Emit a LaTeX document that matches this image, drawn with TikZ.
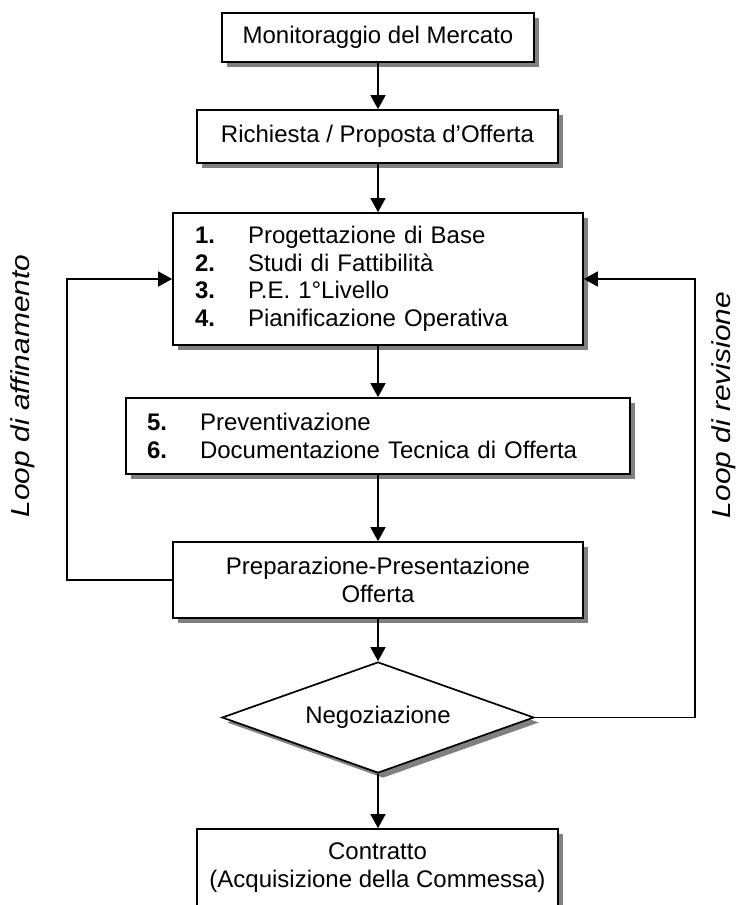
\documentclass[tikz,border=0pt]{standalone}
\usepackage{fontspec}
\setmainfont{Liberation Sans}
\newfontfamily\loopfont[FakeStretch=1.15]{Liberation Sans}
\usetikzlibrary{arrows.meta,shapes.geometric,shadows}
\tikzset{
  shad/.style={drop shadow={shadow xshift=5pt, shadow yshift=-5pt, fill=black!50, opacity=1}},
  box/.style={draw, line width=1.7pt, fill=white, rectangle, inner sep=0pt, shad,
    font=\fontsize{24}{28}\selectfont, align=center},
  listbox/.style={box, font=\fontsize{24}{27.5}\selectfont, align=left},
  dec/.style={draw, line width=1.7pt, fill=white, diamond, inner sep=0pt, shad,
    font=\fontsize{24}{28}\selectfont},
  arr/.style={-{Triangle[length=14pt,width=15pt]}, line width=1.6pt},
  looplab/.style={font=\loopfont\itshape\fontsize{26}{28}\selectfont, rotate=90}
}
\newcommand{\numitem}[2]{\makebox[53pt][l]{\bfseries #1}#2}
\begin{document}
\begin{tikzpicture}[x=1pt,y=-1pt]
\useasboundingbox (0,0) rectangle (737,905);
\clip (0,0) rectangle (737,905);
\fill[white] (0,0) rectangle (737,905);

\node[box, minimum width=312pt, minimum height=49pt] (b1) at (378,37.5) {Monitoraggio del Mercato};
\node[box, minimum width=361pt, minimum height=53pt] (b2) at (377.5,136.5) {Richiesta / Proposta d'Offerta};
\node[listbox, minimum width=410pt, minimum height=132pt, text width=366pt, inner xsep=22pt] (b3) at (378,279)
  {\numitem{1.}{Progettazione di Base}\\ \numitem{2.}{Studi di Fattibilità}\\ \numitem{3.}{P.E. 1°Livello}\\ \numitem{4.}{Pianificazione Operativa}};
\node[listbox, minimum width=504pt, minimum height=76pt, text width=462pt, inner xsep=21pt] (b4) at (378,436)
  {\numitem{5.}{Preventivazione}\\ \numitem{6.}{Documentazione Tecnica di Offerta}};
\node[box, minimum width=410pt, minimum height=76pt] (b5) at (378,580)
  {Preparazione-Presentazione\\Offerta};
\node[dec, minimum width=312pt, minimum height=111pt, aspect=2.81] (d) at (378,717.5) {Negoziazione};
\node[box, minimum width=361pt, minimum height=77pt] (b6) at (377.5,867.5)
  {Contratto\\(Acquisizione della Commessa)};

\draw[arr] (b1.south) -- (b2.north -| b1.south);
\draw[arr] (b2.south -| b1.south) -- (b3.north -| b1.south);
\draw[arr] (b3.south) -- (b4.north);
\draw[arr] (b4.south) -- (b5.north);
\draw[arr] (b5.south) -- (d.north);
\draw[arr] (d.south) -- (b6.north -| d.south);

\coordinate (lA) at (67,580);
\coordinate (lB) at (67,279);
\draw[arr] (b5.west) -- (lA) -- (lB) -- (b3.west);
\coordinate (rA) at (695,717.5);
\coordinate (rB) at (695,279);
\draw[arr] (d.east) -- (rA) -- (rB) -- (b3.east);

\node[looplab] (l1) at (23,386) {Loop di affinamento};
\node[looplab] (l2) at (724,405) {Loop di revisione};
\end{tikzpicture}
\end{document}
